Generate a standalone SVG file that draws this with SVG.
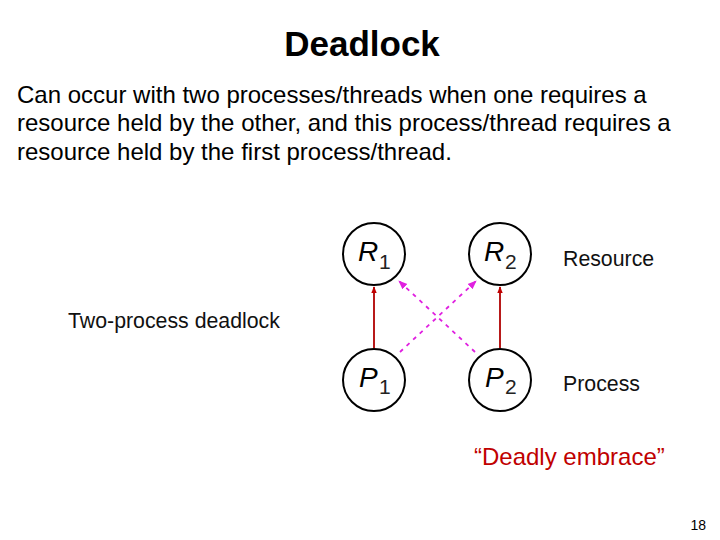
<svg xmlns="http://www.w3.org/2000/svg" width="720" height="540" viewBox="0 0 720 540">
<style>
text{font-family:"Liberation Sans",Arial,sans-serif;fill:#000}
.node{fill:#fff;stroke:#000;stroke-width:2}
.nl{font-size:28px;font-style:italic}
.sub{font-size:21px;fill:#222}
.lbl{font-size:21.3px;fill:#111}
.req{stroke:#b00000;stroke-width:1.8;fill:none}
.hold{stroke:#e020e0;stroke-width:1.8;stroke-dasharray:4 5;fill:none}
</style>
<defs>
<marker id="ar" viewBox="0 0 10 10" refX="9" refY="5" markerWidth="4" markerHeight="4" orient="auto"><path d="M0,1 L10,5 L0,9 z" fill="#c00000"/></marker>
<marker id="am" viewBox="0 0 10 10" refX="9" refY="5" markerWidth="5" markerHeight="5" orient="auto"><path d="M0,1 L10,5 L0,9 z" fill="#e020e0"/></marker>
</defs>
<rect width="720" height="540" fill="#fff"/>
<text x="362" y="56" text-anchor="middle" font-size="35" font-weight="bold">Deadlock</text>
<text font-size="24">
<tspan x="17" y="103">Can occur with two processes/threads when one requires a</tspan>
<tspan x="17" y="131">resource held by the other, and this process/thread requires a</tspan>
<tspan x="17" y="160">resource held by the first process/thread.</tspan>
</text>
<g id="connectors">
<line class="req" x1="374" y1="348" x2="374" y2="287" marker-end="url(#ar)"/>
<line class="req" x1="500" y1="348" x2="500" y2="287" marker-end="url(#ar)"/>
<line class="hold" x1="400" y1="352" x2="476" y2="281" marker-end="url(#am)"/>
<line class="hold" x1="475" y1="352" x2="399" y2="281" marker-end="url(#am)"/>
</g>
<g id="R1"><circle class="node" cx="374" cy="254" r="31"/><text class="nl" x="358" y="261">R</text><text class="sub" x="379" y="269">1</text></g>
<g id="R2"><circle class="node" cx="500" cy="254" r="31"/><text class="nl" x="484" y="261">R</text><text class="sub" x="505" y="269">2</text></g>
<g id="P1"><circle class="node" cx="374" cy="380" r="31"/><text class="nl" x="359" y="387">P</text><text class="sub" x="379" y="394">1</text></g>
<g id="P2"><circle class="node" cx="500" cy="380" r="31"/><text class="nl" x="485" y="387">P</text><text class="sub" x="505" y="394">2</text></g>
<text class="lbl" x="68" y="328">Two-process deadlock</text>
<text class="lbl" x="563" y="266">Resource</text>
<text class="lbl" x="563" y="391">Process</text>
<text x="474" y="465" font-size="24" style="fill:#c00000">“Deadly embrace”</text>
<text x="706" y="530" font-size="14" text-anchor="end">18</text>
</svg>
